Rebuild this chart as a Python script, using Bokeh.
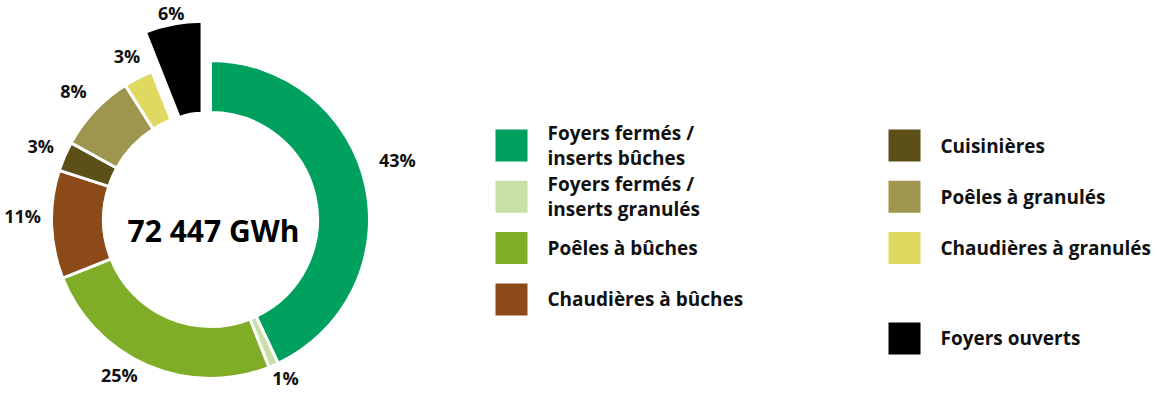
import numpy as np
from bokeh.plotting import figure
from bokeh.models import Range1d, ColumnDataSource
from bokeh.core.properties import value
from bokeh.embed import file_html
from bokeh.resources import INLINE

# ---------------- data ----------------
categories = [
    "Foyers fermés /\ninserts bûches",
    "Foyers fermés /\ninserts granulés",
    "Poêles à bûches",
    "Chaudières à bûches",
    "Cuisinières",
    "Poêles à granulés",
    "Chaudières à granulés",
    "Foyers ouverts",
]
shares = [43, 1, 25, 11, 3, 8, 3, 6]
pct_labels = ["43%", "1%", "25%", "11%", "3%", "8%", "3%", "6%"]
colors = ["#00a05e", "#c8e0a8", "#80ad28", "#8b4a18",
          "#5c4f17", "#9e954e", "#e0d95f", "#000000"]
exploded = [False, False, False, False, False, False, False, True]
total_label = "72 447 GWh"

# ---------------- style / layout ----------------
legend_col = [0, 0, 0, 0, 1, 1, 1, 1]
legend_row = [0, 1, 2, 3, 0, 1, 2, 3.76]
label_r = [196, 175, 180, 188, 185, 188, 184, 165]
label_nudge_deg = [5, 2, -7, -3, 0, 0, 0, 0]

H_REF = 407
CX, CY = 218, H_REF - 234
R_IN, R_OUT = 107, 159
EXPLODE, R_IN_X, R_OUT_X = 45, 62, 154
FONT = "Open Sans"

frac = np.array(shares, dtype=float) / sum(shares)
cum = np.concatenate([[0.0], np.cumsum(frac)])
start = np.pi / 2 - cum[1:] * 2 * np.pi
end = np.pi / 2 - cum[:-1] * 2 * np.pi
mid = (start + end) / 2
ex = np.array(exploded)
xs = CX + np.where(ex, EXPLODE * np.cos(mid), 0.0)
ys = CY + np.where(ex, EXPLODE * np.sin(mid), 0.0)
rin = np.where(ex, R_IN_X, R_IN)
rout = np.where(ex, R_OUT_X, R_OUT)
lang = mid + np.radians(label_nudge_deg)
lr = np.array(label_r, dtype=float)

wedges = ColumnDataSource(dict(x=xs, y=ys, rin=rin, rout=rout, s=start, e=end,
                               color=colors))
labs = ColumnDataSource(dict(x=xs + lr * np.cos(lang), y=ys + lr * np.sin(lang),
                             t=pct_labels))

p = figure(width=1155, height=391, output_backend="svg", toolbar_location=None,
           x_range=Range1d(8, 1163), y_range=Range1d(1, 392), min_border=0)
p.axis.visible = False
p.grid.visible = False
p.outline_line_color = None
p.background_fill_color = "white"
p.border_fill_color = "white"

p.annular_wedge(x="x", y="y", inner_radius="rin", outer_radius="rout",
                start_angle="s", end_angle="e", direction="anticlock",
                fill_color="color", line_color="white", line_width=3,
                source=wedges)

p.text(x="x", y="y", text="t", source=labs, text_align="center",
       text_baseline="middle", text_font=value(FONT), text_font_style="bold",
       text_font_size="18px", text_color="#111111")

p.text(x=[CX + 3], y=[H_REF - 245], text=[total_label], text_align="center",
       text_baseline="middle", text_font=value(FONT), text_font_style="bold",
       text_font_size="30px", text_color="#000000")

# legend
col_x = [503, 896]
SQ = 32
row0 = H_REF - 160
step = 51.3
lx = np.array([col_x[c] for c in legend_col], dtype=float)
ly = row0 - step * np.array(legend_row)
leg = ColumnDataSource(dict(x=lx + SQ / 2, y=ly, tx=lx + 52, color=colors,
                            t=categories))
p.rect(x="x", y="y", width=SQ, height=SQ, fill_color="color", line_color=None,
       source=leg)
p.text(x="tx", y="y", text="t", source=leg, text_align="left",
       text_baseline="middle", text_font=value(FONT), text_font_style="bold",
       text_font_size="19px", text_line_height=0.95, text_color="#111111")

open("out.html", "w").write(file_html(p, INLINE))
